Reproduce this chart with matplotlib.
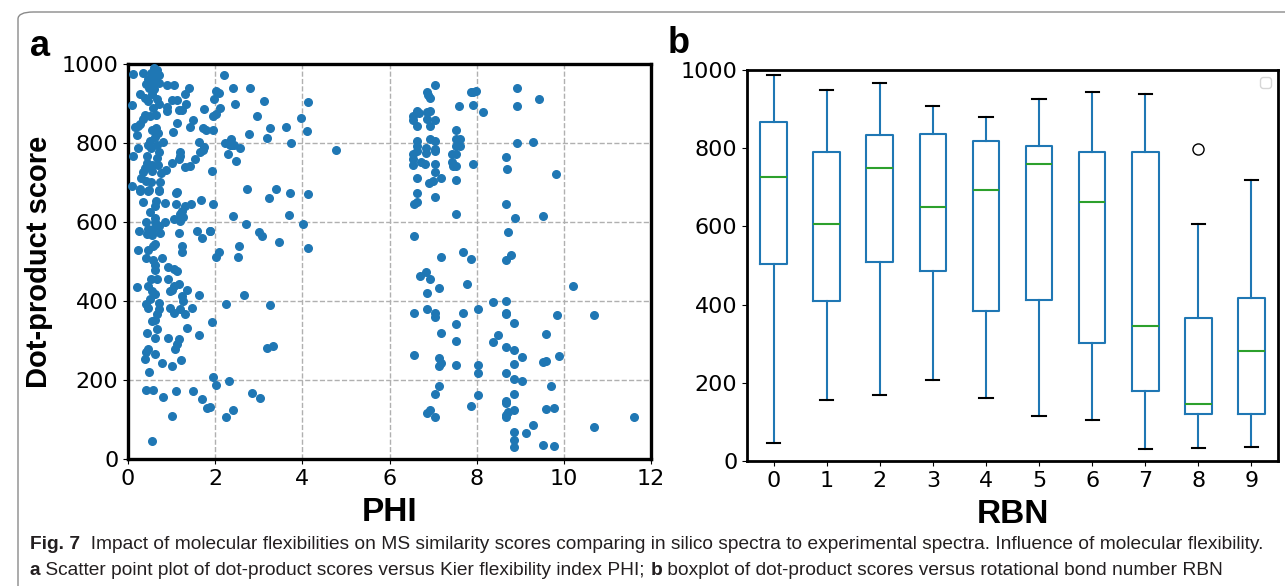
import matplotlib
matplotlib.use("Agg")
import matplotlib.pyplot as plt
from matplotlib.patches import FancyBboxPatch
from matplotlib import font_manager

# panel a: Kier flexibility index PHI vs dot-product score
phi = [
    0.59, 0.67, 0.12, 0.35, 0.53, 0.70, 0.45, 0.62, 0.70, 0.41, 0.54, 0.89, 1.05, 0.48, 0.60, 1.41,
    0.54, 0.28, 1.31, 0.39, 0.66, 1.00, 1.12, 0.47, 0.10, 0.70, 1.33, 0.89, 0.58, 1.16, 1.75, 0.89,
    1.23, 0.39, 0.51, 0.64, 0.35, 1.12, 1.48, 0.28, 0.16, 0.22, 1.42, 0.64, 1.71, 0.54, 1.80, 1.04,
    0.68, 0.20, 0.62, 0.51, 0.81, 1.62, 0.45, 0.67, 0.24, 0.53, 1.74, 1.71, 0.70, 1.20, 1.66, 0.11,
    0.43, 0.66, 1.54, 1.20, 1.16, 0.43, 1.02, 0.56, 0.68, 1.43, 1.31, 0.39, 0.87, 0.35, 0.56, 0.75,
    0.29, 0.41, 0.53, 0.10, 0.73, 0.70, 1.12, 0.28, 0.48,
    0.28, 0.47, 0.70, 1.10, 0.35, 0.64, 0.85, 1.10, 1.68, 1.45, 1.31, 0.61, 1.23, 0.51, 1.19, 0.62,
    1.27, 1.06, 0.41, 0.85, 0.62, 1.19, 0.26, 0.70, 0.45, 0.58, 0.74, 0.43, 0.54, 1.17, 1.58, 1.69,
    1.87, 0.62, 0.58, 1.23, 1.23, 0.22, 0.47, 0.41, 0.79, 0.58, 0.62, 0.91, 0.62, 1.06, 1.13, 0.53,
    0.67, 0.91, 1.16, 0.47, 0.20, 1.06, 0.54, 1.00, 1.35, 0.62, 0.97, 1.23, 1.63, 0.51, 0.41, 0.70,
    1.27, 0.45, 0.96, 1.20, 1.46, 0.70, 0.67, 1.05, 1.30, 0.61, 0.54,
    1.35, 0.66, 0.43, 0.61, 0.91, 1.17, 1.62, 1.12, 1.08, 0.45, 0.41, 0.62, 0.38, 1.22, 0.78, 1.00,
    0.48, 0.41, 0.57, 1.10, 1.50, 0.80, 1.69, 1.82, 1.02, 0.54,
    2.21, 2.02, 2.08, 2.41, 2.80, 1.98, 3.12, 4.13, 2.12, 2.45, 2.02, 1.96, 2.96, 3.96, 1.96, 3.25,
    3.63, 4.11, 2.77, 3.20, 2.36, 2.22, 2.33, 2.39, 2.44, 2.56, 3.75, 4.77, 2.30, 2.47, 1.93, 2.74,
    3.40, 3.72, 4.13, 3.23, 1.95, 2.42, 3.69, 2.71, 4.01, 1.89, 3.00, 3.07, 3.46, 4.13, 2.54, 2.08,
    2.02, 2.52, 2.66, 2.25, 3.25, 1.92, 3.33, 3.20, 1.95, 2.02, 2.31, 2.85, 3.02, 1.89, 2.42, 2.24,
    7.04, 6.85, 6.88, 6.94, 7.86, 7.92, 7.98, 7.59, 7.92, 8.14, 6.62, 6.68, 6.53, 6.87, 6.94, 6.53,
    6.87, 7.05, 6.62, 6.94, 7.53, 6.93, 7.05, 6.62, 7.53, 7.62, 6.62, 6.84, 7.05, 7.53, 7.62, 6.62,
    6.84, 7.05, 6.53, 7.43, 7.53, 6.53, 6.53, 6.73, 6.82, 7.05, 7.43, 7.45, 7.53, 7.92, 7.05, 6.62,
    7.19, 7.53, 6.91, 7.00, 6.62, 7.05, 6.57, 6.62, 7.53, 6.57, 7.69, 7.86, 7.19, 6.84, 6.70, 6.93,
    7.78, 7.13, 6.87, 8.37, 8.04, 6.87, 6.57, 7.05, 7.05, 7.69, 7.53, 7.19, 8.50, 7.53, 8.37, 6.57,
    7.13, 7.19, 7.13, 7.53, 8.04, 8.04, 7.13, 7.05, 8.04, 7.86, 6.93, 6.85, 7.05,
    8.93, 9.43, 8.93, 8.93, 9.30, 8.67, 8.69, 9.81, 8.68, 8.89, 9.52, 8.71, 8.78, 8.68, 10.21, 8.67,
    8.67, 8.67, 9.85, 10.70, 8.86, 9.58, 8.67, 8.86, 9.03, 9.88, 9.52, 9.59, 8.86, 8.67, 8.86, 9.03,
    9.71, 8.86, 8.67, 8.67, 8.86, 8.71, 8.67, 8.67, 9.60, 9.78, 11.62, 10.70, 9.30, 9.13, 8.86, 8.86,
    8.86, 9.52, 9.77,
]
score = [
    990, 986, 974, 978, 976, 973, 963, 963, 953, 950, 950, 948, 946, 938, 936, 938,
    925, 923, 923, 914, 912, 909, 908, 906, 897, 900, 900, 891, 889, 883, 885, 880,
    884, 872, 868, 872, 862, 851, 857, 849, 840, 843, 840, 838, 838, 833, 832, 828,
    826, 821, 815, 806, 802, 802, 795, 794, 787, 787, 790, 783, 777, 778, 778, 767,
    767, 763, 760, 768, 760, 750, 750, 745, 745, 743, 739, 736, 732, 726, 728, 723,
    711, 704, 701, 692, 702, 682, 677, 684, 681,
    679, 679, 679, 674, 651, 654, 647, 645, 656, 645, 640, 641, 628, 626, 619, 609,
    612, 607, 601, 601, 599, 603, 577, 589, 582, 582, 572, 569, 567, 572, 576, 560,
    578, 544, 540, 538, 525, 530, 529, 508, 510, 504, 490, 487, 479, 480, 476, 455,
    455, 455, 442, 438, 435, 438, 425, 429, 429, 417, 425, 413, 414, 404, 393, 396,
    400, 383, 383, 380, 383, 379, 366, 370, 366, 352, 349,
    332, 330, 318, 306, 307, 304, 313, 292, 279, 279, 270, 267, 253, 250, 243, 235,
    219, 175, 175, 171, 173, 156, 152, 130, 108, 46,
    971, 932, 926, 939, 938, 912, 906, 904, 889, 898, 874, 869, 868, 863, 832, 837,
    840, 830, 823, 813, 809, 800, 795, 794, 795, 788, 799, 783, 772, 755, 728, 684,
    683, 674, 670, 661, 646, 615, 618, 595, 595, 578, 575, 564, 549, 535, 539, 523,
    512, 512, 414, 393, 390, 346, 285, 281, 208, 187, 197, 168, 155, 131, 125, 107,
    947, 929, 921, 914, 928, 929, 931, 894, 896, 878, 880, 877, 868, 878, 880, 858,
    862, 858, 842, 842, 833, 811, 806, 804, 810, 810, 792, 788, 785, 792, 792, 781,
    775, 779, 772, 773, 773, 760, 745, 751, 746, 748, 753, 741, 741, 746, 726, 711,
    711, 707, 699, 704, 673, 664, 645, 650, 620, 565, 524, 507, 511, 474, 463, 456,
    444, 433, 419, 397, 380, 381, 370, 369, 359, 370, 343, 318, 313, 300, 295, 264,
    256, 242, 236, 239, 238, 217, 186, 164, 162, 134, 125, 116, 106,
    939, 912, 894, 799, 803, 765, 735, 721, 646, 609, 615, 574, 517, 504, 437, 399,
    370, 366, 364, 365, 345, 316, 284, 275, 258, 262, 245, 249, 240, 218, 203, 197,
    184, 164, 147, 141, 123, 120, 112, 106, 127, 128, 106, 80, 86, 67, 68, 48,
    30, 36, 32,
]

# panel b: box statistics of dot-product score per rotational bond number
rbn = [0, 1, 2, 3, 4, 5, 6, 7, 8, 9]
whis_lo = [45, 156, 168, 207, 162, 115, 105, 31, 32, 36]
q1 = [504, 409, 510, 485, 384, 412, 303, 179, 119, 121]
med = [727, 605, 750, 650, 692, 759, 662, 344, 147, 282]
q3 = [868, 791, 833, 837, 819, 805, 790, 791, 365, 418]
whis_hi = [987, 950, 968, 909, 879, 926, 944, 938, 606, 719]
fliers = [[], [], [], [], [], [], [], [], [799], []]

W, H = 1285, 586
fig = plt.figure(figsize=(W / 100, H / 100), dpi=100)

installed = {f.name for f in font_manager.fontManager.ttflist}
narrow = ['Liberation Sans Narrow', 'Liberation Sans'] if 'Liberation Sans Narrow' in installed else ['Liberation Sans']


def box(l, t, r, b):
    return [l / W, 1 - b / H, (r - l) / W, (b - t) / H]


# outer rounded frame
fig.patches.append(FancyBboxPatch((18 / W, -0.1), 1.2, (586 - 12) / H + 0.1,
                                  boxstyle="round,pad=0,rounding_size=0.012",
                                  transform=fig.transFigure, fill=False,
                                  edgecolor='#8a8a8a', linewidth=1.0))

# ---- panel a
ax1 = fig.add_axes(box(128, 64, 651, 459))
ax1.scatter(phi, score, s=30, color='#1f77b4', zorder=3)
ax1.set_xlim(0, 12)
ax1.set_ylim(0, 1000)
ax1.set_xticks(range(0, 13, 2))
ax1.set_yticks(range(0, 1001, 200))
ax1.grid(True, linestyle='--', color='#b0b0b0', linewidth=1.0)
ax1.tick_params(labelsize=16)
for sp in ax1.spines.values():
    sp.set_linewidth(2.4)
ax1.set_ylabel('Dot-product score', family='Liberation Sans', fontweight='bold', fontsize=21, labelpad=6)
ax1.set_xlabel('PHI', family=narrow, fontweight='bold', fontsize=24, labelpad=6)

# ---- panel b
ax2 = fig.add_axes(box(747, 70, 1278, 461))
stats = []
for i in range(len(rbn)):
    stats.append(dict(label=str(rbn[i]), whislo=whis_lo[i], q1=q1[i], med=med[i],
                      q3=q3[i], whishi=whis_hi[i], fliers=fliers[i]))
ax2.bxp(stats, positions=range(1, len(rbn) + 1), widths=0.5,
        boxprops=dict(color='#1f77b4', linewidth=1.5),
        whiskerprops=dict(color='#1f77b4', linewidth=1.5),
        capprops=dict(color='black', linewidth=1.5),
        medianprops=dict(color='#2ca02c', linewidth=1.5),
        flierprops=dict(marker='o', markerfacecolor='none', markeredgecolor='black', markersize=8))
ax2.set_xlim(0.5, len(rbn) + 0.5)
ax2.set_ylim(0, 1000)
ax2.set_yticks(range(0, 1001, 200))
ax2.tick_params(labelsize=16)
for sp in ax2.spines.values():
    sp.set_linewidth(2.0)
ax2.set_xlabel('RBN', family=narrow, fontweight='bold', fontsize=24, labelpad=6)
ax2.legend(handles=[], labels=[], loc='upper right')

# panel letters
fig.text(30 / W, 1 - 56 / H, 'a', family=narrow, fontweight='bold', fontsize=26)
fig.text(668 / W, 1 - 53 / H, 'b', family=narrow, fontweight='bold', fontsize=26)

# caption with mixed bold / regular runs
renderer = fig.canvas.get_renderer()


def caption_line(runs, x0, y0, size=13.8):
    x = x0
    for txt, bold in runs:
        t = fig.text(x / W, 1 - y0 / H, txt, family=narrow, fontsize=size,
                     fontweight='bold' if bold else 'normal', color='#231f20')
        bb = t.get_window_extent(renderer)
        x += bb.width


caption_line([('Fig. 7', True),
              ('  Impact of molecular flexibilities on MS similarity scores comparing in silico spectra to '
               'experimental spectra. Influence of molecular flexibility.', False)], 30, 549)
caption_line([('a', True), (' Scatter point plot of dot-product scores versus Kier flexibility index PHI; ', False),
              ('b', True), (' boxplot of dot-product scores versus rotational bond number RBN', False)], 30, 575)

fig.savefig('out.png', dpi=100)
